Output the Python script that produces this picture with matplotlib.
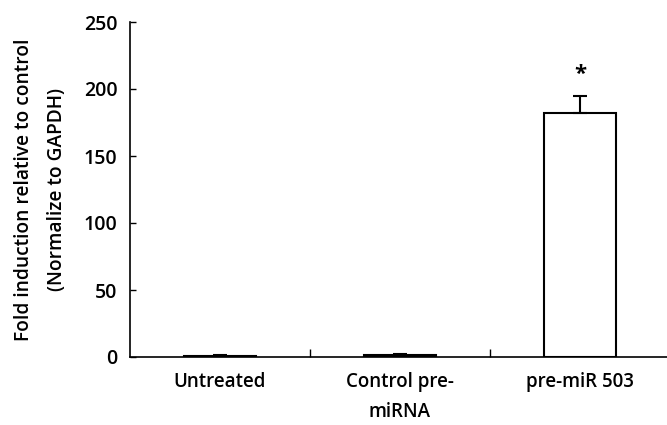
import numpy as np
import matplotlib.pyplot as plt

# dados
categorias = ['Untreated', 'Control pre-\nmiRNA', 'pre-miR 503']
valores = [1.0, 1.2, 182]
erros = [0.3, 0.8, 13]
yticks = [0, 50, 100, 150, 200, 250]

plt.rcParams['font.family'] = ['Open Sans', 'DejaVu Sans']

fig = plt.figure(figsize=(6.67, 4.25), dpi=100)
ax = fig.add_axes([130 / 667, 1 - 357 / 425, 537 / 667, 335 / 425])

x = np.arange(len(categorias))
ax.bar(x, valores, width=0.4, color='white', edgecolor='black', linewidth=1.5)
ax.errorbar(x, valores, yerr=[np.zeros(len(erros)), erros], fmt='none',
            ecolor='black', elinewidth=1.5, capsize=5, capthick=1.5)
ax.text(x[2], valores[2] + erros[2] + 8, '*', ha='center', va='bottom',
        fontsize=16, fontweight='bold')

ax.set_xlim(-0.5, -0.5 + 537 / 180)
ax.set_ylim(0, 250)
ax.set_yticks(yticks)
ax.set_xticks(x)
ax.set_xticklabels(categorias, fontsize=13.5, fontweight='semibold', linespacing=1.65)
ax.tick_params(axis='x', length=0, pad=11)
ax.set_xticks([0.5, 1.5], minor=True)
ax.tick_params(axis='x', which='minor', direction='in', length=6, width=1)
ax.tick_params(axis='y', direction='in', length=4, width=1, labelsize=14, pad=9)
for lab in ax.get_yticklabels():
    lab.set_fontweight('semibold')

ax.spines['top'].set_visible(False)
ax.spines['right'].set_visible(False)
ax.spines['left'].set_linewidth(1.2)
ax.spines['bottom'].set_linewidth(1.2)

ax.set_ylabel('Fold induction relative to control\n(Normalize to GAPDH)',
              fontsize=13.8, fontweight='semibold', linespacing=1.9, labelpad=12)

fig.savefig('out.png', dpi=100)
